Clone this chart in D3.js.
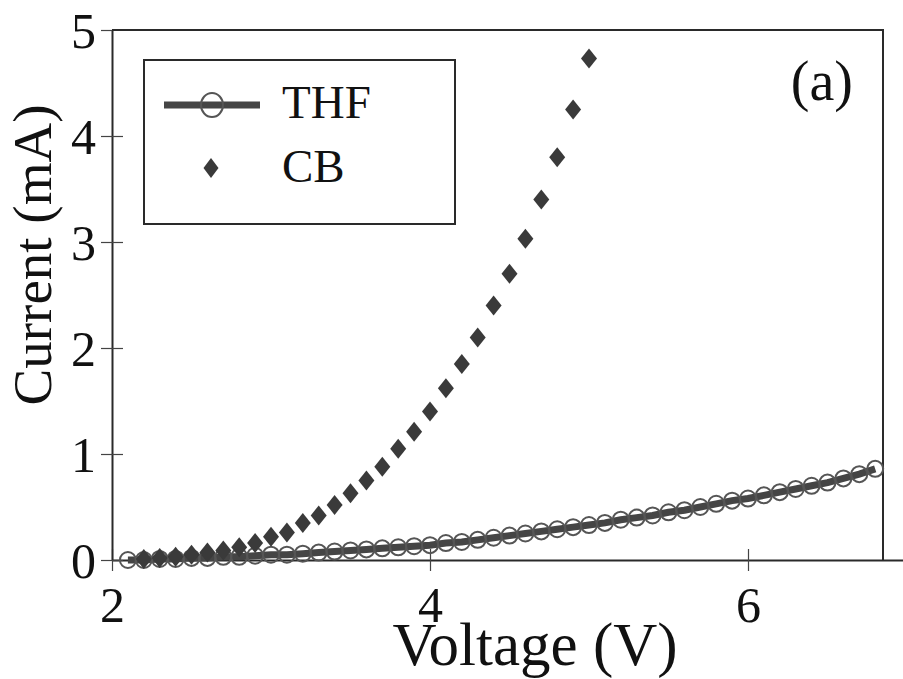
<!DOCTYPE html>
<html>
<head>
<meta charset="utf-8">
<script src="https://cdn.jsdelivr.net/npm/d3@7"></script>
<style>
  html, body { margin: 0; padding: 0; background: #fff; }
  svg { display: block; font-family: "Liberation Serif", "Times New Roman", serif; }
</style>
</head>
<body>
<svg id="chart" width="903" height="679"></svg>
<script>
// ---- data ----
const thfVoltage = [2.1,2.2,2.3,2.4,2.5,2.6,2.7,2.8,2.9,3.0,3.1,3.2,3.3,3.4,3.5,3.6,3.7,3.8,3.9,4.0,
  4.1,4.2,4.3,4.4,4.5,4.6,4.7,4.8,4.9,5.0,5.1,5.2,5.3,5.4,5.5,5.6,5.7,5.8,5.9,6.0,
  6.1,6.2,6.3,6.4,6.5,6.6,6.7,6.8];
const thfCurrent = [0.00,0.00,0.01,0.01,0.02,0.02,0.03,0.03,0.04,0.05,0.05,0.06,0.07,0.08,0.09,0.10,0.11,0.12,0.13,0.14,
  0.16,0.17,0.19,0.21,0.23,0.25,0.27,0.29,0.31,0.33,0.35,0.38,0.40,0.42,0.45,0.47,0.50,0.53,0.56,0.58,
  0.61,0.64,0.67,0.70,0.73,0.77,0.81,0.86];
const cbVoltage = [2.2,2.3,2.4,2.5,2.6,2.7,2.8,2.9,3.0,3.1,3.2,3.3,3.4,3.5,3.6,3.7,3.8,3.9,4.0,
  4.1,4.2,4.3,4.4,4.5,4.6,4.7,4.8,4.9,5.0];
const cbCurrent = [0.01,0.02,0.03,0.05,0.07,0.09,0.12,0.16,0.22,0.26,0.35,0.42,0.52,0.63,0.75,0.88,1.05,1.21,1.40,
  1.62,1.85,2.10,2.40,2.70,3.03,3.40,3.80,4.25,4.73];
const xTicks = [2, 4, 6];
const yTicks = [0, 1, 2, 3, 4, 5];
const seriesNames = ["THF", "CB"];
const xTitle = "Voltage (V)";
const yTitle = "Current (mA)";
const panelLabel = "(a)";

(function () {
// ---- layout ----
const svg = d3.select("#chart");
const mLeft = 112, mTop = 30, mBottom = 560, frameRight = 883;
const x = d3.scaleLinear().domain([2, 7]).range([mLeft, mLeft + 5 * 159]);
const y = d3.scaleLinear().domain([0, 5]).range([mBottom, mTop]);
const dark = "#2a2a2a";
const font = "'Liberation Serif', 'Times New Roman', serif";

// frame (top and right)
svg.append("path")
  .attr("d", `M${mLeft},${mTop}H${frameRight}V${mBottom}`)
  .attr("fill", "none").attr("stroke", dark).attr("stroke-width", 2);

// x axis
const gx = svg.append("g").attr("transform", `translate(0,${mBottom})`)
  .call(d3.axisBottom(x).tickValues(xTicks).tickFormat(d3.format("d")).tickSizeOuter(0));
gx.select(".domain").attr("stroke", dark).attr("stroke-width", 2);
gx.selectAll(".tick line").attr("y1", -11).attr("y2", 11).attr("stroke", "#444").attr("stroke-width", 1.2);
gx.selectAll(".tick text").attr("y", 62).attr("dy", null)
  .style("font-size", "50px").attr("fill", "#111").style("font-family", font);

// y axis
const gy = svg.append("g").attr("transform", `translate(${mLeft},0)`)
  .call(d3.axisLeft(y).tickValues(yTicks).tickFormat(d3.format("d")).tickSizeOuter(0));
gy.select(".domain").attr("stroke", dark).attr("stroke-width", 2);
gy.selectAll(".tick line").attr("x1", -11).attr("x2", d => d === 5 ? 0 : 11).attr("stroke", "#444").attr("stroke-width", 1.2);
gy.selectAll(".tick text").attr("x", -16).attr("dy", "0.34em")
  .style("font-size", "50px").attr("fill", "#111").style("font-family", font);

// axis titles
svg.append("text").attr("x", 535).attr("y", 665).attr("text-anchor", "middle")
  .style("font-size", "61px").style("font-family", font).attr("fill", "#111").text(xTitle);
svg.append("text").attr("transform", "translate(51,255) rotate(-90)").attr("text-anchor", "middle")
  .style("font-size", "55px").style("font-family", font).attr("fill", "#111").text(yTitle);

// panel label
svg.append("text").attr("x", 853).attr("y", 100).attr("text-anchor", "end")
  .style("font-size", "56px").style("font-family", font).attr("fill", "#111").text(panelLabel);

// ---- series ----
const thf = thfVoltage.map((v, i) => [v, thfCurrent[i]]);
const cb = cbVoltage.map((v, i) => [v, cbCurrent[i]]);
const lineColor = "#454545";
const circleColor = "#555";
const diamondColor = "#3a3a3a";
const diamondPath = (cx, cy, w, h) => `M${cx},${cy - h / 2}L${cx + w / 2},${cy}L${cx},${cy + h / 2}L${cx - w / 2},${cy}Z`;

svg.append("path").datum(thf)
  .attr("d", d3.line().x(d => x(d[0])).y(d => y(d[1])))
  .attr("fill", "none").attr("stroke", lineColor).attr("stroke-width", 7);
svg.append("g").selectAll("circle").data(thf).join("circle")
  .attr("cx", d => x(d[0])).attr("cy", d => y(d[1])).attr("r", 8)
  .attr("fill", "none").attr("stroke", circleColor).attr("stroke-width", 2);

svg.append("g").selectAll("path").data(cb).join("path")
  .attr("d", d => diamondPath(x(d[0]), y(d[1]), 16, 20))
  .attr("fill", diamondColor);

// ---- legend ----
const lg = svg.append("g");
lg.append("rect").attr("x", 144).attr("y", 60).attr("width", 311).attr("height", 164)
  .attr("fill", "#fff").attr("stroke", dark).attr("stroke-width", 2);
lg.append("line").attr("x1", 164).attr("x2", 260).attr("y1", 105).attr("y2", 105)
  .attr("stroke", lineColor).attr("stroke-width", 7);
lg.append("ellipse").attr("cx", 212).attr("cy", 105).attr("rx", 11).attr("ry", 12)
  .attr("fill", "none").attr("stroke", circleColor).attr("stroke-width", 2);
lg.append("path").attr("d", diamondPath(211, 168, 15, 20)).attr("fill", diamondColor);
lg.append("text").attr("x", 282).attr("y", 118).style("font-size", "47px").style("font-family", font).attr("fill", "#111").text(seriesNames[0]);
lg.append("text").attr("x", 282).attr("y", 182).style("font-size", "47px").style("font-family", font).attr("fill", "#111").text(seriesNames[1]);
})();
</script>
</body>
</html>
